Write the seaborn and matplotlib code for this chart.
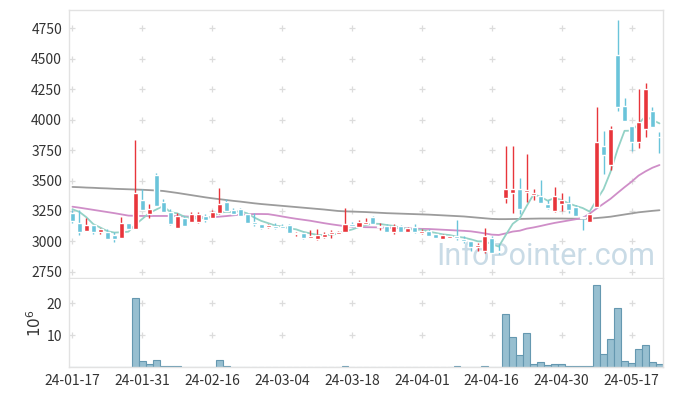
import pandas as pd
import numpy as np
import matplotlib
matplotlib.use("Agg")
import matplotlib.pyplot as plt
import seaborn as sns

# daily candles, 24-01-17 .. 24-05-23 (trading days)
opens = [3231, 3149, 3088, 3135, 3080, 3080, 3053, 3031, 3149, 3105,
         3340, 3228, 3545, 3324, 3244, 3108, 3195, 3162, 3162, 3211,
         3195, 3234, 3321, 3258, 3269, 3223, 3162, 3146, 3118, 3127,
         3125, 3135, 3059, 3072, 3031, 3018, 3039, 3059, 3064, 3075,
         3141, 3121, 3143, 3198, 3116, 3129, 3080, 3127, 3080, 3116,
         3072, 3088, 3064, 3023, 3031, 3047, 3023, 3004, 2957, 2925,
         3031, 2922, 3359, 3395, 3430, 3403, 3381, 3373, 3307, 3253,
         3305, 3313, 3285, 3198, 3162, 3285, 3783, 3627, 4529, 4111,
         3947, 3818, 3920, 4070, 3860]
highs = [3258, 3258, 3190, 3135, 3113, 3100, 3080, 3198, 3149, 3832,
         3428, 3307, 3564, 3346, 3264, 3236, 3211, 3240, 3244, 3228,
         3258, 3436, 3346, 3275, 3277, 3236, 3236, 3146, 3143, 3149,
         3141, 3141, 3080, 3080, 3090, 3100, 3080, 3095, 3088, 3272,
         3157, 3178, 3190, 3205, 3149, 3141, 3141, 3135, 3116, 3141,
         3100, 3100, 3064, 3064, 3047, 3176, 3047, 3004, 2990, 3108,
         3045, 2980, 3783, 3783, 3518, 3717, 3430, 3504, 3340, 3449,
         3400, 3370, 3300, 3205, 3230, 4105, 3906, 3947, 4821, 4174,
         3947, 4250, 4302, 4100, 3900]
lows = [3154, 3050, 3085, 3061, 3059, 3023, 2998, 3031, 3102, 3105,
        3258, 3190, 3291, 3244, 3135, 3108, 3129, 3162, 3150, 3162,
        3195, 3225, 3252, 3217, 3211, 3149, 3129, 3100, 3108, 3100,
        3108, 3067, 3047, 3023, 3026, 3015, 3030, 3026, 3064, 3075,
        3116, 3116, 3143, 3141, 3094, 3080, 3059, 3080, 3080, 3067,
        3059, 3045, 3026, 3023, 3031, 3010, 2990, 2925, 2925, 2903,
        2903, 2900, 3318, 3236, 3225, 3326, 3340, 3313, 3264, 3245,
        3250, 3230, 3211, 3094, 3162, 3285, 3553, 3586, 4070, 3990,
        3744, 3764, 3859, 3941, 3728]
closes = [3170, 3080, 3135, 3080, 3102, 3023, 3023, 3149, 3102, 3395,
          3258, 3266, 3291, 3244, 3141, 3211, 3129, 3228, 3228, 3176,
          3244, 3310, 3252, 3225, 3211, 3154, 3141, 3113, 3131, 3113,
          3113, 3067, 3072, 3031, 3047, 3053, 3061, 3080, 3080, 3141,
          3127, 3162, 3162, 3141, 3127, 3080, 3127, 3080, 3108, 3080,
          3088, 3045, 3026, 3053, 3047, 3026, 3004, 2957, 2971, 3045,
          2908, 2910, 3430, 3430, 3264, 3422, 3395, 3313, 3277, 3373,
          3340, 3258, 3211, 3190, 3225, 3813, 3709, 3922, 4105, 3990,
          3818, 3980, 4250, 3941, 3855]
# closes of the four sessions before 24-01-17 (for the 5-day average)
prev_closes = [3190, 3355, 3365, 3240]

volumes = [0, 0, 0, 0, 0, 0, 0, 0, 0, 21.5,
           1.9, 0.85, 2.2, 0.3, 0.3, 0.3, 0, 0, 0, 0,
           0, 2.2, 0.3, 0, 0, 0, 0, 0, 0, 0,
           0, 0, 0, 0, 0, 0, 0, 0, 0, 0.2,
           0, 0, 0, 0, 0, 0, 0, 0, 0, 0,
           0, 0, 0, 0, 0, 0.2, 0, 0, 0, 0.3,
           0, 0, 16.7, 9.4, 3.7, 10.7, 0.85, 1.5, 0.5, 0.85,
           0.85, 0.2, 0.2, 0.2, 0.2, 25.7, 4.1, 8.8, 18.6, 1.9,
           1.3, 5.7, 6.9, 1.6, 0.85]

ma20 = [3285, 3277, 3268, 3259, 3250, 3241, 3232, 3222, 3212, 3210,
        3209, 3209, 3209, 3209, 3209, 3208, 3206, 3203, 3201, 3199,
        3198, 3203, 3208, 3214, 3220, 3223, 3225, 3225, 3224, 3215,
        3205, 3195, 3186, 3178, 3170, 3160, 3150, 3141, 3133, 3125,
        3121, 3119, 3117, 3116, 3115, 3113, 3111, 3109, 3107, 3105,
        3103, 3102, 3099, 3096, 3093, 3090, 3087, 3083, 3075, 3066,
        3056, 3053, 3066, 3081, 3088, 3105, 3115, 3127, 3140, 3152,
        3162, 3172, 3182, 3192, 3228, 3270, 3310, 3350, 3398, 3445,
        3490, 3540, 3575, 3605, 3627]
ma60 = [3447, 3445, 3442, 3440, 3437, 3435, 3432, 3430, 3428, 3426,
        3424, 3421, 3418, 3414, 3406, 3398, 3389, 3380, 3371, 3362,
        3354, 3347, 3340, 3333, 3327, 3320, 3313, 3307, 3302, 3297,
        3292, 3287, 3282, 3277, 3272, 3267, 3262, 3256, 3250, 3247,
        3245, 3243, 3241, 3238, 3235, 3232, 3230, 3228, 3226, 3224,
        3222, 3220, 3217, 3214, 3211, 3208, 3205, 3200, 3195, 3190,
        3185, 3183, 3183, 3184, 3185, 3186, 3187, 3188, 3188, 3188,
        3188, 3187, 3187, 3186, 3187, 3192, 3197, 3203, 3212, 3221,
        3230, 3239, 3245, 3251, 3256]

tick_pos = [0, 10, 20, 30, 40, 50, 60, 70, 80]
tick_labels = ["24-01-17", "24-01-31", "24-02-16", "24-03-04", "24-03-18",
               "24-04-01", "24-04-16", "24-04-30", "24-05-17"]
price_ticks = [2750, 3000, 3250, 3500, 3750, 4000, 4250, 4500, 4750]
vol_ticks = [10, 20]

UP = "#e8353b"
DOWN = "#6ac4da"

df = pd.DataFrame({"open": opens, "high": highs, "low": lows,
                   "close": closes, "volume": volumes,
                   "ma20": ma20, "ma60": ma60})
df["idx"] = np.arange(len(df))
allc = pd.Series(prev_closes + closes)
df["ma5"] = allc.rolling(5).mean().iloc[len(prev_closes):].values
df["color"] = np.where(df["close"] >= df["open"], UP, DOWN)

sns.set_theme(style="white")
plt.rcParams["font.family"] = ["Noto Sans CJK KR", "DejaVu Sans"]

fig = plt.figure(figsize=(6.73, 3.96), dpi=100)
ax = fig.add_axes([0.1025, 0.298, 0.8826, 0.677])
axv = fig.add_axes([0.1025, 0.0732, 0.8826, 0.2226])

# grid shown as small crosses
gx, gy = np.meshgrid(tick_pos, price_ticks)
ax.scatter(gx.ravel(), gy.ravel(), marker="+", s=22, color="#dcdcdc",
           linewidths=0.9, zorder=0)
gx2, gy2 = np.meshgrid(tick_pos, vol_ticks)
axv.scatter(gx2.ravel(), gy2.ravel(), marker="+", s=22, color="#dcdcdc",
            linewidths=0.9, zorder=0)

ax.text(0.803, 0.08, "InfoPointer.com", transform=ax.transAxes,
        ha="center", va="center", fontsize=22, color="#c9dbe6",
        family=["Roboto", "DejaVu Sans"], zorder=1)

sns.lineplot(data=df, x="idx", y="ma60", ax=ax, color="#9c9c9c", lw=1.3, zorder=2)
sns.lineplot(data=df, x="idx", y="ma20", ax=ax, color="#cf8ec8", lw=1.3, zorder=2)
sns.lineplot(data=df, x="idx", y="ma5", ax=ax, color="#93d2c6", lw=1.3, zorder=2)

body = (df["close"] - df["open"]).abs().clip(lower=5)
bottom = df[["open", "close"]].min(axis=1)
ax.vlines(df["idx"], df["low"], df["high"], colors=df["color"], lw=1.0, zorder=3)
ax.bar(df["idx"], body, bottom=bottom, width=0.72, color=df["color"], zorder=4)

sns.barplot(data=df, x="idx", y="volume", native_scale=True, ax=axv,
            width=0.95, color="#97bfd0", edgecolor="#6598b0", linewidth=0.8,
            saturation=1, errorbar=None)

ax.set_xlim(-0.5, 84.5)
axv.set_xlim(-0.5, 84.5)
ax.set_ylim(2700, 4900)
axv.set_ylim(0, 27.6)
ax.set_yticks(price_ticks)
axv.set_yticks(vol_ticks)
ax.set_xticks(tick_pos)
ax.set_xticklabels([])
axv.set_xticks(tick_pos)
axv.set_xticklabels(tick_labels)
ax.set_xlabel("")
ax.set_ylabel("")
axv.set_xlabel("")
axv.set_ylabel(r"$10^6$", fontsize=11, color="#333333", labelpad=1)

for a in (ax, axv):
    a.tick_params(length=0, labelsize=10, labelcolor="#333333", pad=5)
    for s in a.spines.values():
        s.set_color("#e2e2e2")
        s.set_linewidth(1.0)
axv.spines["top"].set_visible(False)

fig.savefig("out.png", dpi=100)
